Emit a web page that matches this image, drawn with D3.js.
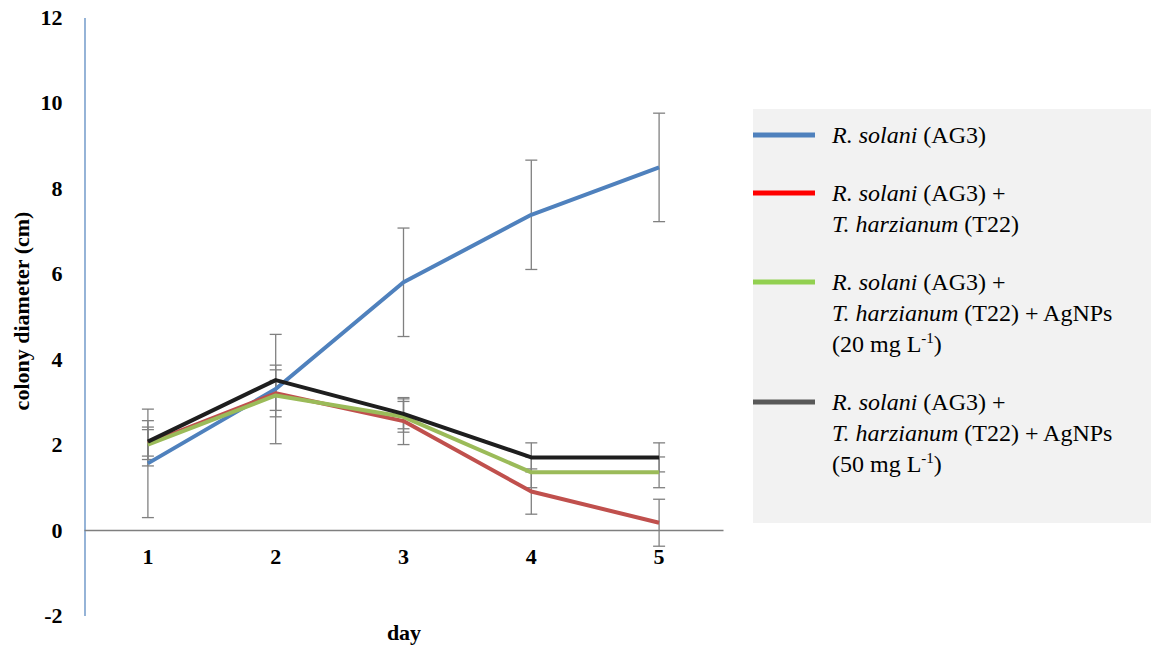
<!DOCTYPE html>
<html>
<head>
<meta charset="utf-8">
<script src="https://cdn.jsdelivr.net/npm/d3@7"></script>
<style>
  body { margin: 0; background: #fff; }
  svg { display: block; }
</style>
</head>
<body>
<script>
// data
const days = ['1', '2', '3', '4', '5'];
const yTicks = [-2, 0, 2, 4, 6, 8, 10, 12];

const rsolani      = [1.56, 3.30, 5.80, 7.38, 8.49];
const rsolaniErr   = [1.27, 1.28, 1.27, 1.28, 1.27];
const rsT22        = [2.03, 3.20, 2.55, 0.90, 0.17];
const rsT22Err     = [0.53, 0.55, 0.55, 0.53, 0.55];
const rsT22Ag20    = [2.00, 3.15, 2.65, 1.35, 1.35];
const rsT22Ag20Err = [0.35, 0.35, 0.36, 0.36, 0.36];
const rsT22Ag50    = [2.07, 3.51, 2.72, 1.70, 1.70];
const rsT22Ag50Err = [0.34, 0.35, 0.35, 0.34, 0.34];

const width  = 1151;
const height = 646;
const FONT   = '"Liberation Serif", "Times New Roman", serif';

const series = [
  {values: rsolani,   err: rsolaniErr,   line: '#4f81bd', key: '#4f81bd',
   label: [[['R. solani', true], [' (AG3)', false]]]},
  {values: rsT22,     err: rsT22Err,     line: '#c0504d', key: '#ff0000',
   label: [[['R. solani', true], [' (AG3) +', false]],
           [['T. harzianum', true], [' (T22)', false]]]},
  {values: rsT22Ag20, err: rsT22Ag20Err, line: '#9bbb59', key: '#92d050',
   label: [[['R. solani', true], [' (AG3) +', false]],
           [['T. harzianum', true], [' (T22) + AgNPs', false]],
           [['(20 mg L', false], ['-1', false, true], [')', false]]]},
  {values: rsT22Ag50, err: rsT22Ag50Err, line: '#1e1e1e', key: '#595959',
   label: [[['R. solani', true], [' (AG3) +', false]],
           [['T. harzianum', true], [' (T22) + AgNPs', false]],
           [['(50 mg L', false], ['-1', false, true], [')', false]]]}
];

const svg = d3.select('body').append('svg')
    .attr('width', width)
    .attr('height', height)
    .style('font-family', FONT);

const x = d3.scaleBand().domain(days).range([84, 723]);
const y = d3.scaleLinear().domain([-2, 12]).range([615.4, 17.5]);
const cx = d => x(d) + x.bandwidth() / 2;

// ASSE Y
const yAxis = svg.append('g')
    .attr('transform', 'translate(84.5,0)')
    .call(d3.axisLeft(y).tickValues(yTicks).tickFormat(v => String(v))
      .tickSize(0).tickSizeOuter(0).tickPadding(22));
yAxis.select('.domain').attr('stroke', '#4f81bd').attr('stroke-width', 1.2);
yAxis.selectAll('text')
    .style('font-family', FONT)
    .attr('font-size', 22).attr('font-weight', 'bold').attr('fill', '#000');

// ASSE X (a quota zero)
const xAxis = svg.append('g')
    .attr('transform', 'translate(0,' + y(0) + ')')
    .call(d3.axisBottom(x).tickSize(0).tickSizeOuter(0).tickPadding(18));
xAxis.select('.domain').attr('stroke', '#7f7f7f').attr('stroke-width', 1.5);
xAxis.selectAll('text')
    .style('font-family', FONT)
    .attr('font-size', 22).attr('font-weight', 'bold').attr('fill', '#000');

// BARRE DI ERRORE
const errG = svg.append('g').attr('stroke', '#808080').attr('stroke-width', 1.3).attr('fill', 'none');
series.forEach(s => {
  days.forEach((d, i) => {
    const top = y(s.values[i] + s.err[i]);
    const bot = y(s.values[i] - s.err[i]);
    const px = cx(d);
    errG.append('line').attr('x1', px).attr('x2', px).attr('y1', top).attr('y2', bot);
    errG.append('line').attr('x1', px - 6).attr('x2', px + 6).attr('y1', top).attr('y2', top);
    errG.append('line').attr('x1', px - 6).attr('x2', px + 6).attr('y1', bot).attr('y2', bot);
  });
});

// LINEE
const line = d3.line().x((v, i) => cx(days[i])).y(v => y(v));
series.forEach(s => {
  svg.append('path')
      .attr('d', line(s.values))
      .attr('fill', 'none')
      .attr('stroke', s.line)
      .attr('stroke-width', 4)
      .attr('stroke-linejoin', 'round');
});

// TITOLI ASSI
svg.append('text')
    .attr('transform', 'translate(29,311) rotate(-90)')
    .attr('text-anchor', 'middle')
    .style('font-family', FONT)
    .attr('font-size', 22).attr('font-weight', 'bold')
    .text('colony diameter (cm)');

svg.append('text')
    .attr('x', 404).attr('y', 640)
    .attr('text-anchor', 'middle')
    .style('font-family', FONT)
    .attr('font-size', 22).attr('font-weight', 'bold')
    .text('day');

// LEGENDA
svg.append('rect')
    .attr('x', 753).attr('y', 109)
    .attr('width', 398).attr('height', 414)
    .attr('fill', '#f2f2f2');

const lineH = 31;
let baseY = 143;
series.forEach(s => {
  svg.append('line')
      .attr('x1', 753).attr('x2', 815)
      .attr('y1', baseY - 8).attr('y2', baseY - 8)
      .attr('stroke', s.key).attr('stroke-width', 5);
  s.label.forEach((parts, li) => {
    const t = svg.append('text')
        .attr('x', 832).attr('y', baseY + li * lineH)
        .style('font-family', FONT)
        .attr('font-size', 24).attr('fill', '#000');
    let prevSup = false;
    parts.forEach(p => {
      const ts = t.append('tspan').text(p[0]);
      if (p[1]) ts.attr('font-style', 'italic');
      if (p[2]) ts.attr('font-size', 15).attr('dy', -9);
      else if (prevSup) ts.attr('dy', 9);
      prevSup = !!p[2];
    });
  });
  baseY += 58 + (s.label.length - 1) * lineH;
});
</script>
</body>
</html>
